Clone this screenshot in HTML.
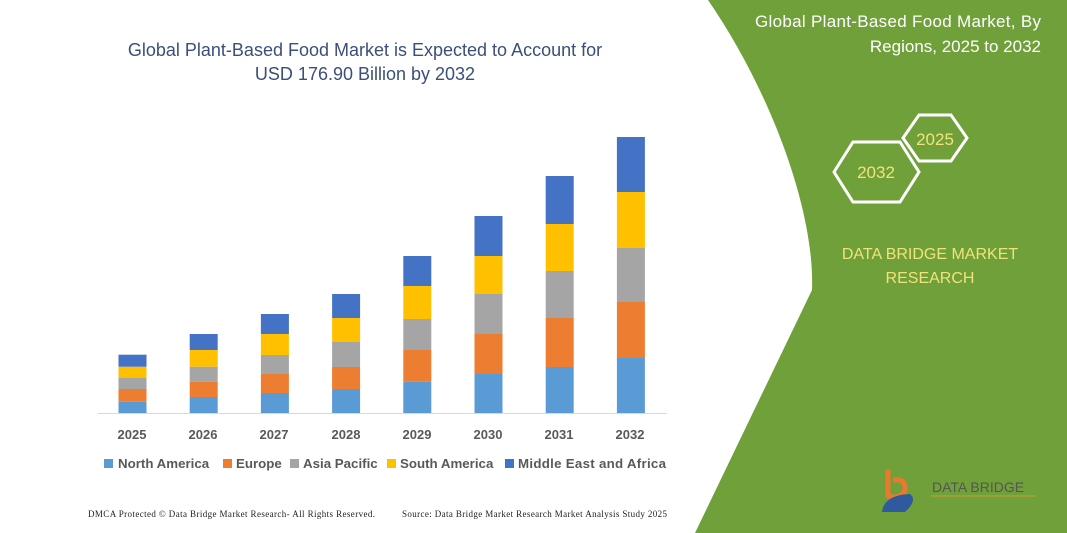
<!DOCTYPE html>
<html><head><meta charset="utf-8"><style>
body{margin:0;width:1067px;height:533px;overflow:hidden;background:#fff}
svg{display:block}
text{font-family:"Liberation Sans",sans-serif}
</style></head><body>
<svg width="1067" height="533" viewBox="0 0 1067 533">
<path d="M708,0 C770,90 815,210 812,290 L695,533 L1067,533 L1067,0 Z" fill="#70a03a"/>
<text x="365" y="56" font-size="18" fill="#3b4f7a" text-anchor="middle">Global Plant-Based Food Market is Expected to Account for</text>
<text x="365" y="80" font-size="18" fill="#3b4f7a" text-anchor="middle">USD 176.90 Billion by 2032</text>
<line x1="98" y1="413.5" x2="667" y2="413.5" stroke="#d9d9d9" stroke-width="1"/>
<g id="bars"></g>
<g font-size="13" font-weight="bold" fill="#595959" text-anchor="middle">
<text x="132" y="439">2025</text><text x="203" y="439">2026</text><text x="274" y="439">2027</text><text x="346" y="439">2028</text><text x="417" y="439">2029</text><text x="488" y="439">2030</text><text x="559" y="439">2031</text><text x="630" y="439">2032</text>
</g>
<g font-size="13.3" font-weight="bold" fill="#595959">
<rect x="104" y="459" width="9" height="9" fill="#5b9bd5"/><text x="118" y="468">North America</text>
<rect x="223" y="459" width="9" height="9" fill="#ed7d31"/><text x="236" y="468">Europe</text>
<rect x="290" y="459" width="9" height="9" fill="#a5a5a5"/><text x="303" y="468">Asia Pacific</text>
<rect x="387" y="459" width="9" height="9" fill="#ffc000"/><text x="400" y="468">South America</text>
<rect x="505" y="459" width="9" height="9" fill="#4472c4"/><text x="518" y="468" textLength="148">Middle East and Africa</text>
</g>
<g font-size="9" fill="#222">
<text x="88" y="517" style="font-family:'Liberation Serif',serif" textLength="287">DMCA Protected © Data Bridge Market Research-  All Rights Reserved.</text>
<text x="402" y="517" style="font-family:'Liberation Serif',serif" textLength="265">Source: Data Bridge Market Research  Market Analysis Study 2025</text>
</g>
<text x="1041" y="27" font-size="17" fill="#fff" text-anchor="end" textLength="286">Global Plant-Based Food Market, By</text>
<text x="1041" y="52" font-size="17" fill="#fff" text-anchor="end">Regions, 2025 to 2032</text>
<polygon points="903,138 919,115 951,115 967,138 951,161 919,161" fill="none" stroke="#fff" stroke-width="3"/>
<polygon points="834,172 853,142 900,142 919,172 900,202 853,202" fill="none" stroke="#fff" stroke-width="3"/>
<text x="935" y="145" font-size="17" fill="#f2e27a" text-anchor="middle">2025</text>
<text x="876" y="178" font-size="17" fill="#f2e27a" text-anchor="middle">2032</text>
<text x="930" y="259" font-size="16" fill="#f2e27a" text-anchor="middle">DATA BRIDGE MARKET</text>
<text x="930" y="283" font-size="16" fill="#f2e27a" text-anchor="middle">RESEARCH</text>
<path d="M888,470 L888,496 Q900,500 905,490 Q906,478 893,480" fill="none" stroke="#e8792f" stroke-width="5"/>
<path d="M882,512 Q884,495 910,494 Q918,500 905,512 Z" fill="#2f5a9e"/>
<text x="932" y="492" font-size="14" fill="#555">DATA BRIDGE</text>
<line x1="931" y1="496" x2="1035" y2="496" stroke="#c9a030" stroke-width="1"/>
</svg>
<script>
var tops=[[401.7,389,378,366.7,354.7],[397,381.7,366.7,350,334],[393,374,355,334,314],[389,367,342,318,294],[381.7,350,319,286,256],[374,334,294,256,216],[367,318,271,224,176],[358,302,248,192,137]];
var cols=["#5b9bd5","#ed7d31","#a5a5a5","#ffc000","#4472c4"];
var g=document.getElementById("bars"),s="";
tops.forEach(function(t,i){var x=118.5+i*71.2,b=413;t.forEach(function(y,j){s+='<rect x="'+x+'" y="'+y+'" width="28" height="'+(b-y)+'" fill="'+cols[j]+'"/>';b=y;});});
g.innerHTML=s;
</script>
</body></html>
